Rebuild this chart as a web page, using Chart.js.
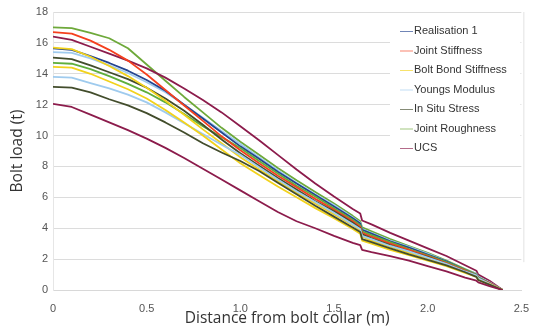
<!DOCTYPE html>
<html>
<head>
<meta charset="utf-8">
<script src="https://cdn.jsdelivr.net/npm/chart.js@4.4.0/dist/chart.umd.min.js"></script>
<style>
  html, body { margin: 0; padding: 0; background: #fff; }
  #wrap { width: 533px; height: 334px; }
</style>
</head>
<body>
<div id="wrap"><canvas id="chart" width="533" height="334"></canvas></div>
<script>
// distance along the bolt (m); the pairs at 1.64/1.65 and 2.26/2.27 are the joint steps
const distances = [0, 0.1, 0.2, 0.3, 0.4, 0.5, 0.6, 0.7, 0.8, 0.9, 1.0,
  1.1, 1.2, 1.3, 1.4, 1.5, 1.6, 1.64, 1.65, 1.7, 1.8, 1.9, 2.0, 2.1, 2.2, 2.26, 2.27, 2.33, 2.4];

// bolt load (t) for each run
const realisation1   = [15.65, 15.55, 15.15, 14.7, 14.2, 13.6, 12.9, 12.0, 11.1, 10.2, 9.3,
  8.5, 7.65, 6.9, 6.15, 5.4, 4.65, 4.3, 3.9, 3.65, 3.15, 2.75, 2.3, 1.85, 1.3, 1.0, 0.8, 0.45, 0];
const jointStiffness = [16.7, 16.6, 16.15, 15.55, 14.85, 13.95, 12.95, 11.95, 10.95, 9.95, 9.05,
  8.2, 7.4, 6.65, 5.9, 5.2, 4.45, 4.1, 3.7, 3.45, 3.0, 2.6, 2.2, 1.75, 1.25, 0.95, 0.75, 0.45, 0];
const boltBondHigh   = [15.7, 15.6, 15.1, 14.5, 13.85, 13.1, 12.25, 11.35, 10.4, 9.5, 8.6,
  7.8, 7.05, 6.3, 5.6, 4.9, 4.2, 3.85, 3.45, 3.2, 2.8, 2.4, 2.05, 1.65, 1.15, 0.9, 0.7, 0.4, 0];
const boltBondLow    = [14.45, 14.4, 14.0, 13.5, 13.0, 12.4, 11.65, 10.85, 10.0, 9.1, 8.2,
  7.45, 6.7, 6.0, 5.3, 4.65, 3.95, 3.65, 3.2, 3.0, 2.6, 2.25, 1.9, 1.55, 1.1, 0.85, 0.65, 0.35, 0];
const youngsHigh     = [15.4, 15.35, 15.0, 14.55, 14.05, 13.45, 12.8, 12.0, 11.15, 10.3, 9.45,
  8.6, 7.75, 6.95, 6.2, 5.5, 4.7, 4.35, 3.95, 3.7, 3.2, 2.8, 2.35, 1.85, 1.3, 1.05, 0.85, 0.5, 0];
const youngsLow      = [13.8, 13.75, 13.4, 13.05, 12.65, 12.15, 11.5, 10.8, 10.1, 9.4, 8.75,
  7.95, 7.15, 6.4, 5.7, 5.0, 4.25, 3.95, 3.5, 3.3, 2.85, 2.5, 2.1, 1.7, 1.2, 0.95, 0.75, 0.4, 0];
const inSituHigh     = [15.05, 14.95, 14.55, 14.1, 13.65, 13.1, 12.4, 11.6, 10.7, 9.75, 8.85,
  8.05, 7.25, 6.5, 5.75, 5.1, 4.35, 4.0, 3.6, 3.35, 2.9, 2.5, 2.15, 1.7, 1.2, 0.95, 0.75, 0.4, 0];
const inSituLow      = [13.15, 13.1, 12.8, 12.35, 11.95, 11.45, 10.85, 10.2, 9.5, 8.9, 8.35,
  7.7, 6.95, 6.2, 5.45, 4.75, 4.05, 3.75, 3.3, 3.1, 2.7, 2.3, 1.95, 1.6, 1.15, 0.85, 0.65, 0.35, 0];
const roughnessHigh  = [17.0, 16.95, 16.65, 16.3, 15.65, 14.6, 13.55, 12.5, 11.5, 10.5, 9.6,
  8.75, 7.9, 7.1, 6.35, 5.6, 4.8, 4.45, 4.05, 3.8, 3.3, 2.85, 2.4, 1.9, 1.35, 1.05, 0.85, 0.5, 0];
const roughnessLow   = [14.7, 14.65, 14.3, 13.85, 13.35, 12.8, 12.15, 11.4, 10.6, 9.9, 9.2,
  8.35, 7.55, 6.75, 6.05, 5.3, 4.55, 4.2, 3.8, 3.55, 3.1, 2.65, 2.25, 1.8, 1.3, 1.0, 0.8, 0.45, 0];
const ucsHigh        = [16.4, 16.2, 15.75, 15.3, 14.85, 14.35, 13.75, 13.05, 12.3, 11.5, 10.6,
  9.7, 8.75, 7.8, 6.9, 6.05, 5.25, 4.95, 4.5, 4.25, 3.7, 3.2, 2.7, 2.2, 1.6, 1.25, 1.0, 0.6, 0];
const ucsLow         = [12.05, 11.85, 11.35, 10.85, 10.35, 9.8, 9.2, 8.55, 7.85, 7.15, 6.45,
  5.75, 5.05, 4.45, 4.0, 3.5, 3.05, 2.9, 2.6, 2.45, 2.2, 1.9, 1.55, 1.2, 0.8, 0.6, 0.5, 0.25, 0];

const legendNames = ['Realisation 1', 'Joint Stiffness', 'Bolt Bond Stiffness', 'Youngs Modulus',
  'In Situ Stress', 'Joint Roughness', 'UCS'];

function series(label, values, color, inLegend) {
  return {
    label: label,
    data: values.map((v, i) => ({ x: distances[i], y: v })),
    borderColor: color,
    borderWidth: 1.8,
    borderJoinStyle: 'round',
    pointRadius: 0,
    tension: 0,
    fill: false,
    inLegend: inLegend
  };
}

const datasets = [
  series('UCS', ucsLow, '#8c1c4c', false),
  series('In Situ Stress', inSituLow, '#434d2c', false),
  series('Bolt Bond Stiffness', boltBondLow, '#f2d21c', false),
  series('Youngs Modulus', youngsLow, '#9fcbee', false),
  series('Bolt Bond Stiffness', boltBondHigh, '#f2d21c', true),
  series('In Situ Stress', inSituHigh, '#434d2c', true),
  series('Joint Stiffness', jointStiffness, '#f5401e', true),
  series('Joint Roughness', roughnessLow, '#5fae3c', false),
  series('Realisation 1', realisation1, '#23448f', true),
  series('Youngs Modulus', youngsHigh, '#9fcbee', true),
  series('UCS', ucsHigh, '#8c1c4c', true),
  series('Joint Roughness', roughnessHigh, '#6ea93a', true)
];

// legend sits inside the plot, top right, on a white box
const boxLegend = {
  id: 'boxLegend',
  afterDraw(chart) {
    const ctx = chart.ctx;
    const area = chart.chartArea;
    ctx.save();
    ctx.fillStyle = '#ffffff';
    ctx.fillRect(390, area.top + 1, area.right - 390 - 1, 152);
    // thin frame line on the right side
    ctx.strokeStyle = '#e2e2e2';
    ctx.lineWidth = 1;
    ctx.beginPath();
    ctx.moveTo(area.right + 2.5, area.top);
    ctx.lineTo(area.right + 2.5, chart.scales.y.getPixelForValue(1.8));
    ctx.stroke();

    ctx.font = '11px "Liberation Sans", Arial, sans-serif';
    ctx.textBaseline = 'middle';
    legendNames.forEach((name, i) => {
      const ds = chart.data.datasets.find(d => d.label === name && d.inLegend);
      const y = 31 + i * 19.5;
      ctx.globalAlpha = 0.65;
      ctx.strokeStyle = ds.borderColor;
      ctx.lineWidth = 1;
      ctx.beginPath();
      ctx.moveTo(400, y + 0.5);
      ctx.lineTo(413, y + 0.5);
      ctx.stroke();
      ctx.globalAlpha = 1;
      ctx.fillStyle = '#333333';
      ctx.fillText(name, 414, y);
    });
    ctx.restore();
  }
};

new Chart(document.getElementById('chart'), {
  type: 'line',
  data: { datasets: datasets },
  plugins: [boxLegend],
  options: {
    responsive: false,
    animation: false,
    devicePixelRatio: 1,
    layout: { padding: { top: 12, right: 11, left: 0, bottom: 0 } },
    plugins: {
      legend: { display: false },
      tooltip: { enabled: false }
    },
    scales: {
      x: {
        type: 'linear',
        min: 0,
        max: 2.5,
        afterFit: (scale) => { scale.height = 44; },
        ticks: {
          stepSize: 0.5,
          padding: 4,
          color: '#555',
          font: { family: '"Liberation Sans", Arial, sans-serif', size: 11 }
        },
        grid: { display: false },
        border: { display: true, color: '#d8d8d8' },
        title: {
          display: true,
          text: 'Distance from bolt collar (m)',
          color: '#333',
          padding: { top: 0, bottom: 6 },
          font: { family: '"Open Sans", sans-serif', size: 15.5 }
        }
      },
      y: {
        min: 0,
        max: 18,
        afterFit: (scale) => { scale.width = 53; },
        ticks: {
          stepSize: 2,
          padding: 5,
          color: '#555',
          font: { family: '"Liberation Sans", Arial, sans-serif', size: 11 }
        },
        grid: { color: '#dcdcdc', drawTicks: false },
        border: { display: true, color: '#e6e6e6' },
        title: {
          display: true,
          text: 'Bolt load (t)',
          color: '#333',
          padding: { top: 8, bottom: 0 },
          font: { family: '"Open Sans", sans-serif', size: 15.5 }
        }
      }
    }
  }
});
</script>
</body>
</html>
